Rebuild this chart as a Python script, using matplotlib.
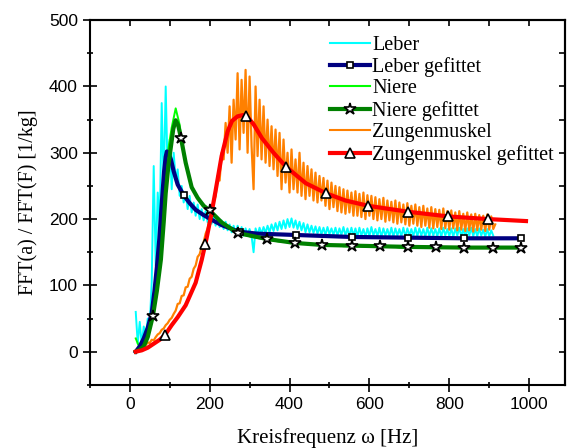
import numpy as np
import matplotlib.pyplot as plt
from matplotlib.lines import Line2D
from matplotlib.ticker import MultipleLocator

# Raw spectra (5 Hz steps)
leber_f = np.arange(15, 915, 5)
leber_v = [60, 12, 45, 10, 38, 22, 50, 40, 105, 280,
           130, 240, 190, 375, 250, 400, 265, 320, 245, 300,
           260, 275, 235, 250, 225, 240, 215, 235, 210, 225,
           205, 222, 200, 215, 198, 212, 195, 210, 193, 205,
           190, 202, 188, 198, 185, 196, 183, 192, 180, 190,
           178, 190, 176, 188, 175, 186, 176, 185, 174, 150,
           186, 176, 187, 178, 188, 179, 190, 180, 192, 182,
           194, 183, 196, 185, 198, 186, 200, 188, 201, 187,
           198, 185, 196, 183, 194, 180, 192, 180, 190, 179,
           189, 178, 188, 177, 187, 176, 188, 177, 186, 176,
           187, 175, 186, 176, 188, 175, 186, 174, 187, 175,
           186, 174, 187, 175, 185, 173, 186, 174, 188, 175,
           185, 174, 187, 173, 186, 175, 185, 174, 187, 173,
           186, 175, 185, 174, 187, 173, 186, 175, 185, 174,
           187, 174, 186, 175, 185, 173, 187, 174, 186, 175,
           185, 174, 186, 173, 187, 175, 185, 174, 186, 173,
           186, 175, 187, 174, 185, 173, 186, 175, 187, 174,
           185, 174, 186, 175, 184, 173, 185, 174, 183, 175]

niere_f = np.arange(15, 915, 10)
niere_v = [20, 5, 12, 28, 50, 85, 130, 215, 300, 338,
           367, 342, 300, 272, 250, 238, 228, 222, 214, 209,
           203, 198, 193, 188, 184, 181, 178, 176, 175, 173,
           172, 171, 170, 169, 168, 167, 166, 166, 165, 164,
           164, 163, 163, 162, 162, 161, 161, 161, 160, 160,
           160, 160, 159, 159, 159, 159, 159, 158, 158, 158,
           158, 158, 158, 158, 158, 158, 157, 157, 157, 157,
           157, 157, 157, 157, 157, 157, 157, 157, 157, 157,
           157, 157, 157, 157, 157, 157, 157, 157, 157, 157]

zungen_f = np.arange(15, 920, 5)
zungen_v = [0, 3, 6, 5, 9, 10, 14, 13, 18, 17,
            22, 26, 28, 33, 35, 40, 43, 48, 51, 57,
            62, 72, 73, 84, 85, 97, 98, 110, 113, 125,
            130, 143, 147, 158, 165, 178, 186, 200, 205, 225,
            235, 265, 258, 300, 290, 345, 300, 370, 285, 380,
            320, 420, 305, 410, 330, 425, 300, 415, 310, 245,
            400, 295, 380, 290, 370, 285, 350, 280, 340, 275,
            335, 265, 330, 245, 320, 255, 300, 240, 305, 245,
            290, 240, 300, 235, 285, 230, 280, 235, 275, 228,
            270, 225, 265, 228, 262, 220, 258, 215, 255, 218,
            250, 212, 248, 210, 245, 208, 243, 210, 240, 205,
            242, 205, 238, 203, 240, 200, 236, 205, 235, 200,
            233, 198, 230, 200, 232, 196, 228, 198, 226, 195,
            228, 193, 225, 195, 222, 192, 224, 190, 220, 193,
            222, 190, 218, 188, 220, 190, 216, 187, 218, 186,
            215, 188, 214, 185, 216, 186, 212, 184, 213, 186,
            210, 183, 212, 184, 208, 182, 210, 183, 207, 181,
            208, 183, 206, 184, 205, 182, 207, 184, 204, 185,
            192]

# Fitted curves
leber_fit_f = [15, 25, 35, 45, 55, 62, 68, 74, 80, 86, 90, 93, 97, 103, 110,
               120, 135, 150, 165, 185, 205, 230, 273, 320, 416, 557, 697, 837, 980]
leber_fit_v = [0, 8, 20, 36, 58, 92, 128, 170, 222, 272, 294, 302, 300, 290, 272,
               252, 236, 224, 214, 206, 199, 191, 181, 178, 176, 173, 172, 171, 171]
leber_mark_f = [135, 276, 416, 557, 697, 837, 980]
leber_mark_v = [236, 181, 176, 173, 172, 171, 171]

niere_fit_f = [15, 25, 35, 45, 58, 68, 78, 85, 90, 97, 103, 109, 115, 121, 128,
               140, 155, 170, 185, 200, 230, 270, 343, 413, 481, 556, 626, 700, 840, 980]
niere_fit_v = [0, 3, 8, 22, 54, 92, 139, 195, 239, 282, 309, 336, 349, 342, 323,
               285, 248, 232, 220, 213, 195, 179, 170, 164, 161, 160, 159, 158, 157, 157]
niere_mark_f = [58, 128, 200, 270, 343, 413, 481, 556, 626, 697, 767, 837, 910, 980]
niere_mark_v = [54, 323, 213, 179, 170, 164, 161, 160, 159, 158, 158, 157, 157, 157]

zungen_fit_f = [15, 30, 45, 60, 75, 88, 105, 120, 140, 165, 180, 192, 203, 215, 230, 245,
                256, 270, 285, 295, 310, 331, 360, 391, 441, 491, 540, 597, 697, 797, 897, 992]
zungen_fit_v = [0, 2, 6, 12, 18, 25, 40, 52, 70, 104, 138, 170, 203, 243, 295, 332,
                348, 355, 357, 354, 343, 322, 300, 279, 254, 239, 228, 220, 211, 204, 200, 197]
zungen_mark_f = [88, 188, 291, 391, 491, 597, 697, 797, 897]
zungen_mark_v = [25, 163, 356, 279, 239, 220, 211, 204, 200]

labels = ['Leber', 'Leber gefittet', 'Niere', 'Niere gefittet',
          'Zungenmuskel', 'Zungenmuskel gefittet']

serif = 'Liberation Serif'
sans = 'Liberation Sans'

fig = plt.figure(figsize=(5.72, 4.48), dpi=100)
ax = fig.add_axes([0.157, 0.141, 0.831, 0.814])

# raw data
ax.plot(leber_f, leber_v, color='#00ffff', lw=1.4, zorder=2)
ax.plot(niere_f, niere_v, color='#00ff00', lw=1.4, zorder=2)
ax.plot(zungen_f, zungen_v, color='#ff8000', lw=1.6, zorder=2)

# fits
ax.plot(leber_fit_f, leber_fit_v, color='#000080', lw=3, zorder=3)
ax.plot(niere_fit_f, niere_fit_v, color='#008000', lw=3, zorder=3)
ax.plot(zungen_fit_f, zungen_fit_v, color='#ff0000', lw=3, zorder=3)

mk = dict(ls='none', mfc='white', mec='black', mew=1.2, zorder=4)
ax.plot(leber_mark_f, leber_mark_v, marker='s', ms=4.5, **mk)
ax.plot(niere_mark_f, niere_mark_v, marker='*', ms=9, **mk)
ax.plot(zungen_mark_f, zungen_mark_v, marker='^', ms=7, **mk)

ax.set_xlim(-100, 1090)
ax.set_ylim(-50, 500)

ax.xaxis.set_major_locator(MultipleLocator(200))
ax.xaxis.set_minor_locator(MultipleLocator(100))
ax.yaxis.set_major_locator(MultipleLocator(100))
ax.yaxis.set_minor_locator(MultipleLocator(50))

ax.tick_params(which='major', direction='inout', length=10, width=1.2, labelsize=12.5)
ax.tick_params(which='minor', direction='inout', length=5, width=1.2)
for lab in ax.get_xticklabels() + ax.get_yticklabels():
    lab.set_fontfamily(sans)
for sp in ax.spines.values():
    sp.set_linewidth(1.5)

# top and right axes: short inward ticks
axt = ax.secondary_xaxis('top')
axt.xaxis.set_major_locator(MultipleLocator(100))
axt.tick_params(direction='in', length=4, width=1.2, labeltop=False)
axr = ax.secondary_yaxis('right')
axr.yaxis.set_major_locator(MultipleLocator(50))
axr.tick_params(direction='in', length=4, width=1.2, labelright=False)
axt.spines['top'].set_linewidth(1.5)
axr.spines['right'].set_linewidth(1.5)

ax.set_xlabel('Kreisfrequenz ω [Hz]', fontfamily=serif, fontsize=15, labelpad=12)
ax.set_ylabel('FFT(a) / FFT(F) [1/kg]', fontfamily=serif, fontsize=14.5, labelpad=8)

# legend with proxies
handles = [
    Line2D([], [], color='#00ffff', lw=1.5),
    Line2D([], [], color='#000080', lw=3, marker='s', ms=4.5, mfc='white', mec='black', mew=1.2),
    Line2D([], [], color='#00ff00', lw=1.5),
    Line2D([], [], color='#008000', lw=3, marker='*', ms=9, mfc='white', mec='black', mew=1.2),
    Line2D([], [], color='#ff8000', lw=1.5),
    Line2D([], [], color='#ff0000', lw=3, marker='^', ms=7, mfc='white', mec='black', mew=1.2),
]
ax.legend(handles, labels, loc='upper left', bbox_to_anchor=(0.488, 0.98),
          frameon=False, handlelength=2.0, handletextpad=0.1, labelspacing=0.12,
          prop={'family': serif, 'size': 14.5}, borderaxespad=0)

fig.savefig('out.png', dpi=100)
